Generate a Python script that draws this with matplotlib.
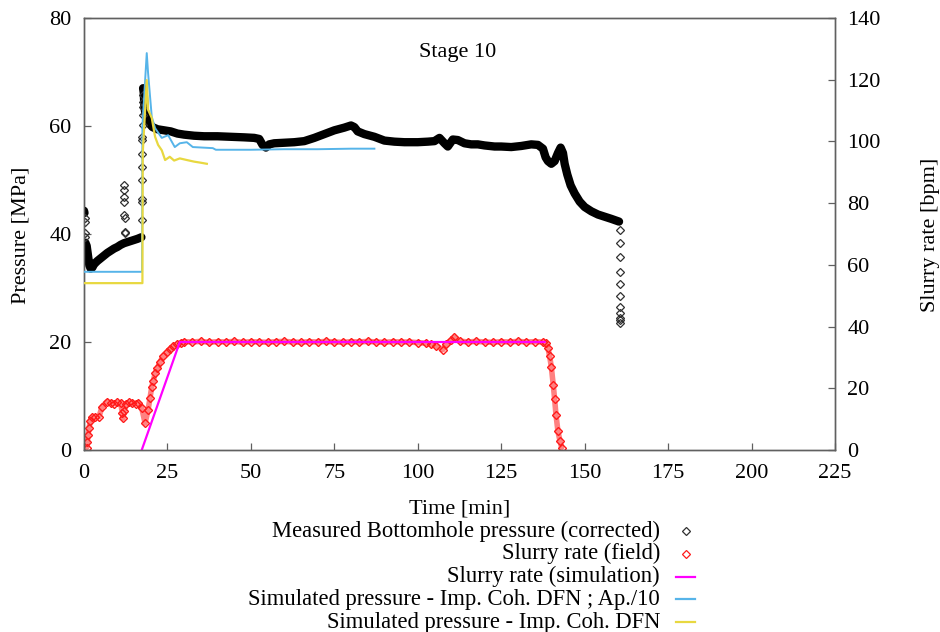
import numpy as np
import matplotlib
matplotlib.use("Agg")
import matplotlib.pyplot as plt
from matplotlib.lines import Line2D

plt.rcParams['font.family'] = ['Liberation Serif', 'DejaVu Serif']
plt.rcParams['font.size'] = 16

nan = np.nan

# Measured bottomhole pressure [MPa] - continuous record (NaN separates segments)
bhp_t = [0.0, 0.15, nan,
         0.4, 0.8, 1.2, 1.6, 2.0, 2.5, 3.0, 4.0, 5.0, 6.0, 7.0, 8.0, 9.0, 10.0,
         11.0, 12.0, 13.0, 14.0, 15.0, 16.0, 17.2, nan,
         17.7, 17.9, 18.1, 18.4, 18.8, 19.5, 20.5, 22, 24, 26, 28, 30, 33, 36,
         40, 44, 48, 51, 52.5, 53.5, 54.5, 55.5, 57, 60, 63, 66, 69, 72, 75,
         78, 80, 81, 82, 84, 87, 90, 93, 96, 100, 103, 105, 106.5, 108, 109,
         110.5, 112, 114, 116, 118, 120, 123, 125, 128, 131, 134, 136, 137.5,
         138.3, 139, 140, 141, 142, 142.8, 143.5, 144, 144.8, 145.8, 147,
         148.5, 150, 152, 154, 156, 158, 160.3]
bhp_p = [44.3, 43.9, nan,
         38.4, 37.8, 36.0, 34.2, 33.6, 33.8, 34.4, 35.0, 35.5, 36.0, 36.5, 36.9,
         37.3, 37.6, 38.0, 38.3, 38.5, 38.7, 38.9, 39.1, 39.4, nan,
         67.0, 66.2, 63.5, 62.3, 61.5, 60.5, 59.8, 59.4, 59.2, 59.0, 58.6, 58.4,
         58.2, 58.1, 58.1, 58.0, 57.9, 57.8, 57.6, 56.5, 56.0, 56.6, 56.8, 56.9,
         57.0, 57.2, 57.8, 58.5, 59.2, 59.7, 60.1, 59.8, 59.0, 58.5, 58.0, 57.3,
         57.1, 57.0, 57.0, 57.1, 57.2, 57.8, 56.8, 56.2, 57.5, 57.4, 56.8, 56.6,
         56.6, 56.4, 56.2, 56.2, 56.1, 56.3, 56.6, 56.5, 55.8, 54.2, 53.5, 53.0,
         53.5, 55.0, 56.0, 55.0, 53.0, 51.0, 49.0, 47.5, 46.0, 45.0, 44.2, 43.6,
         43.2, 42.8, 42.3]

# Isolated pressure readings during fast transients
bhp_sparse_t = [0.2, 0.25, 0.3, 0.35,
                12.0, 12.0, 12.0, 12.1, 12.1, 12.2, 12.2, 12.3,
                17.3, 17.3, 17.35, 17.4, 17.4, 17.45, 17.5, 17.5, 17.55, 17.6,
                17.6, 17.65, 17.7,
                160.5, 160.5, 160.5, 160.5, 160.5, 160.5, 160.5, 160.5, 160.5,
                160.6, 160.6]
bhp_sparse_p = [43.0, 42.3, 40.2, 39.5,
                49.1, 48.1, 46.9, 45.9, 43.5, 42.9, 40.4, 40.1,
                42.6, 46.0, 46.4, 50.0, 52.5, 54.9, 57.4, 58.0, 60.2, 62.0,
                63.6, 64.5, 65.7,
                40.7, 38.3, 35.7, 33.0, 30.7, 28.5, 26.5, 25.4, 24.5, 24.0, 23.6]

# Simulated pressure, improved cohesive DFN with aperture / 10
sim_ap_t = [0, 17.4, 17.5, 18.8, 19.2, 20.3, 21.3, 23.3, 25.2, 27.2, 28.7,
            30.8, 32.6, 38.6, 39.5, 50, 60, 70, 80, 87]
sim_ap_p = [33.0, 33.0, 60.0, 73.5, 69.8, 61.7, 59.6, 57.8, 58.3, 56.1, 56.8,
            57.0, 56.1, 55.9, 55.6, 55.6, 55.7, 55.7, 55.8, 55.8]

# Simulated pressure, improved cohesive DFN
sim_t = [0, 17.5, 17.6, 18.8, 19.2, 20.3, 21.3, 22.2, 23.3, 24.3, 25.7,
         27.0, 28.7, 30.8, 33.0, 35.0, 36.8]
sim_p = [30.9, 30.9, 55.0, 68.5, 63.0, 61.5, 58.0, 56.5, 55.5, 53.7, 54.3,
         53.6, 54.0, 53.7, 53.4, 53.2, 53.0]

# Slurry rate measured in the field [bpm]
rate_t = [0.8, 1.0, 1.2, 1.5, 1.9, 2.5, 3.3, 4.5, 5.4, 6.8, 8.0, 9.0, 10.0,
          11.0, 11.5, 11.7, 12.0, 12.5, 13.5, 14.5, 15.5, 16.3, 17.3, 18.3,
          19.2, 19.8, 20.3, 20.8, 21.3, 22.0, 22.8, 23.8, 24.8, 25.8, 26.8,
          28.0, 29.0, 30.0, 32.5, 35.0, 37.5, 40.0, 42.5, 45.0, 47.5, 50.0,
          52.5, 55.0, 57.5, 60.0, 62.5, 65.0, 67.5, 70.0, 72.5, 75.0, 77.5,
          80.0, 82.5, 85.0, 87.5, 90.0, 92.5, 95.0, 97.5, 100.0, 102.5, 104.0,
          105.5, 107.5, 108.5, 110.0, 111.0, 112.5, 115.0, 117.5, 120.0, 122.5,
          125.0, 127.5, 130.0, 132.5, 135.0, 137.5, 138.5, 139.0, 139.5, 140.0,
          140.6, 141.0, 141.4, 142.0, 142.6, 143.1]
rate_v = [0.8, 2.5, 4.8, 7.0, 9.5, 10.6, 10.7, 10.8, 14.0, 15.6, 15.3, 15.0,
          15.4, 15.2, 12.0, 10.3, 12.5, 15.0, 15.4, 15.2, 15.0, 15.3, 13.6, 8.7,
          13.0, 17.0, 20.5, 22.5, 24.8, 26.5, 28.6, 30.5, 31.6, 32.8, 33.6,
          34.3, 34.8, 35.1, 35.0, 35.2, 34.9, 35.1, 35.0, 35.2, 34.9, 35.1,
          35.0, 34.9, 35.1, 35.2, 35.0, 34.9, 35.1, 35.0, 35.2, 35.0, 34.9,
          35.1, 35.0, 35.2, 35.0, 34.9, 35.1, 35.0, 35.0, 34.8, 34.6, 34.2,
          33.8, 32.5, 34.3, 35.6, 36.5, 35.3, 35.0, 35.2, 35.0, 34.9, 35.1,
          35.0, 35.2, 35.0, 35.1, 35.0, 34.6, 33.0, 30.5, 27.0, 21.0, 16.5,
          11.5, 6.0, 3.0, 0.8]

# Slurry rate used in the simulation [bpm]
rate_sim_t = [17.3, 28.7, 138.0]
rate_sim_v = [0.0, 35.0, 35.0]

x_ticks = [0, 25, 50, 75, 100, 125, 150, 175, 200, 225]
p_ticks = [0, 20, 40, 60, 80]
r_ticks = [0, 20, 40, 60, 80, 100, 120, 140]

C_BLUE = '#56b4e9'
C_YELLOW = '#e8d840'
C_MAGENTA = '#ff00ff'
C_RED = '#ff1a1a'
C_SPINE = '#606060'

fig = plt.figure(figsize=(9.4, 6.32), dpi=100)
W, H = 940.0, 632.0
ax = fig.add_axes([84 / W, 1 - 450 / H, (835 - 84) / W, (450 - 18) / H])
ax2 = ax.twinx()
ax.set_zorder(2)
ax.patch.set_visible(False)

# pressure side
ax.plot(bhp_t, bhp_p, color='black', lw=6, solid_capstyle='round',
        solid_joinstyle='round', zorder=2)
ax.plot(bhp_sparse_t, bhp_sparse_p, ls='none', marker='D', ms=4.2,
        mfc='none', mec='#303030', mew=0.9, zorder=2)
ax.plot(sim_ap_t, sim_ap_p, color=C_BLUE, lw=1.4, zorder=3)
ax.plot(sim_t, sim_p, color=C_YELLOW, lw=1.6, zorder=3)

# rate side
ax2.plot(rate_t, rate_v, color=C_RED, lw=4, alpha=0.55, zorder=2,
         solid_capstyle='round', solid_joinstyle='round')
ax2.plot(rate_t, rate_v, ls='none', marker='D', ms=4.5, mfc='none',
         mec=C_RED, mew=1.0, zorder=2)
ax2.plot(rate_sim_t, rate_sim_v, color=C_MAGENTA, lw=1.6, zorder=3)

ax.set_xlim(0, 225)
ax.set_ylim(0, 80)
ax2.set_ylim(0, 140)
ax.set_xticks(x_ticks)
ax.set_yticks(p_ticks)
ax2.set_yticks(r_ticks)

for a in (ax, ax2):
    for s in a.spines.values():
        s.set_color(C_SPINE)
        s.set_linewidth(1.0)
    a.tick_params(direction='in', length=5, width=0.9, color=C_SPINE,
                  labelsize=16, pad=9)
ax.tick_params(axis='x', pad=10)

ax.text(0.498, 0.921, 'Stage 10', transform=ax.transAxes, ha='center',
        va='center', fontsize=16)

ax.set_xlabel('Time [min]', fontsize=16, labelpad=12)
fig.text(21 / W, 1 - 235 / H, 'Pressure [MPa]', rotation=90, ha='center',
         va='center', fontsize=16)
fig.text(930 / W, 1 - 235 / H, 'Slurry rate [bpm]', rotation=90, ha='center',
         va='center', fontsize=16)

# legend below the plot: right-aligned labels with keys on the right
legend_entries = [
    ('Measured Bottomhole pressure (corrected)', 'marker', '#303030'),
    ('Slurry rate (field)', 'marker', C_RED),
    ('Slurry rate (simulation)', 'line', C_MAGENTA),
    ('Simulated pressure - Imp. Coh. DFN ; Ap./10', 'line', C_BLUE),
    ('Simulated pressure - Imp. Coh. DFN', 'line', C_YELLOW),
]
for i, (label, kind, col) in enumerate(legend_entries):
    yc = 1 - (531 + i * 22.8) / H
    fig.text(660 / W, yc, label, ha='right', va='center', fontsize=16.3)
    if kind == 'marker':
        fig.add_artist(Line2D([686 / W], [yc], ls='none', marker='D', ms=3.6,
                              mfc='none', mec=col, mew=0.9))
    else:
        fig.add_artist(Line2D([676 / W, 695 / W], [yc, yc], color=col, lw=1.6))

fig.savefig('out.png', dpi=100)
